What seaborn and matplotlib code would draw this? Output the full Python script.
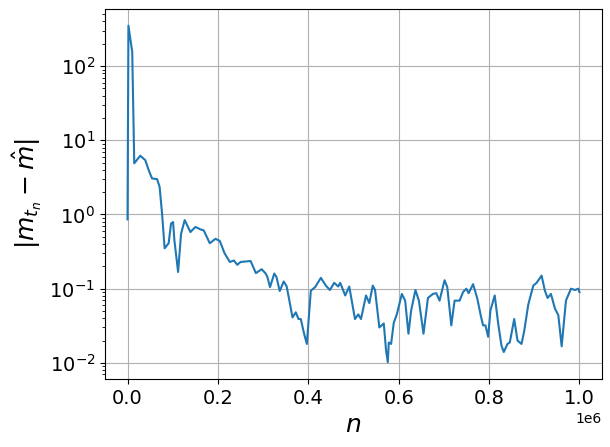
import numpy as np
import pandas as pd
import matplotlib
matplotlib.use("Agg")
import matplotlib.pyplot as plt
import seaborn as sns

# iteration index n (thousands) and error |m_tn - m_hat|
n_k = [0, 2, 10.4, 14.9, 28.2, 39.3, 46.6, 54.2, 65.3, 71, 76.4, 82.1, 91, 96.3,
       100.8, 103.7, 111.9, 118.5, 126.5, 139.2, 150.3, 161.4, 168.7, 182, 194.7,
       204.2, 214.7, 226.4, 235.3, 242.9, 250.2, 272.4, 284, 296.8, 305.7, 309.5,
       315.3, 324.7, 329.5, 336.8, 345.6, 352, 357.4, 365, 372.3, 378.3, 383.4,
       390.7, 396.7, 405.6, 415.1, 427.8, 438.9, 447.8, 457.3, 466.2, 470.6,
       481.7, 490.6, 503.3, 510.6, 516.6, 527.7, 535, 542.6, 547.7, 557.2, 567,
       572.1, 575.9, 578.1, 583.2, 589.2, 595.8, 607, 614.3, 621.6, 627.6, 637.1,
       644.7, 654.9, 664.7, 675.8, 683.1, 690.4, 701.5, 707.5, 716.4, 723.7,
       734.8, 742.4, 749.7, 754.8, 764.6, 774.1, 781.4, 786.8, 791.9, 797.9, 803,
       812.5, 820.1, 827.4, 832.5, 840.7, 845.8, 855.6, 862.9, 871.8, 877.8,
       886.7, 897.8, 905.1, 916.2, 923.5, 929.5, 936.8, 945.7, 953.2, 960.6,
       970.1, 981.2, 990.1, 997.6, 1000]
err = [0.86, 350, 156, 4.9, 6.2, 5.4, 4.0, 3.06, 3.0, 2.36, 1.03, 0.35, 0.41, 0.755,
       0.79, 0.45, 0.168, 0.55, 0.84, 0.58, 0.68, 0.63, 0.61, 0.41, 0.47,
       0.44, 0.30, 0.229, 0.24, 0.21, 0.229, 0.236, 0.162, 0.183, 0.16, 0.144,
       0.105, 0.16, 0.144, 0.093, 0.125, 0.108, 0.073, 0.041, 0.048, 0.039, 0.039,
       0.0247, 0.018, 0.094, 0.105, 0.14, 0.11, 0.096, 0.12, 0.107, 0.12,
       0.081, 0.107, 0.039, 0.045, 0.039, 0.081, 0.064, 0.11, 0.096, 0.030, 0.034,
       0.0146, 0.0102, 0.0188, 0.018, 0.035, 0.045, 0.085, 0.069, 0.0247, 0.051, 0.096,
       0.069, 0.0247, 0.075, 0.085, 0.087, 0.069, 0.13, 0.105, 0.032, 0.069,
       0.069, 0.09, 0.1, 0.087, 0.115, 0.073, 0.044, 0.032, 0.032, 0.0225, 0.051,
       0.081, 0.034, 0.0171, 0.014, 0.018, 0.0188, 0.039, 0.020, 0.018, 0.027,
       0.061, 0.11, 0.12, 0.15, 0.094, 0.075, 0.085, 0.054, 0.044, 0.0167,
       0.069, 0.1, 0.096, 0.1, 0.09]

df = pd.DataFrame({"n": np.array(n_k) * 1e3, "err": err})

fig = plt.figure(figsize=(6.1, 4.47), dpi=100)
ax = fig.add_axes([0.172, 0.152, 0.815, 0.828])

sns.lineplot(data=df, x="n", y="err", ax=ax, color="#1f77b4", linewidth=1.5)
ax.set_yscale("log")
ax.grid(True, which="major", color="#b0b0b0", linewidth=0.8)
ax.set_xlabel(r"$n$", fontsize=18)
ax.set_ylabel(r"$|m_{t_n} - \hat{m}|$", fontsize=18)
ax.tick_params(axis="both", which="major", labelsize=14)
ax.set_xticks([0, 2e5, 4e5, 6e5, 8e5, 1e6])

fig.savefig("out.png", dpi=100)
